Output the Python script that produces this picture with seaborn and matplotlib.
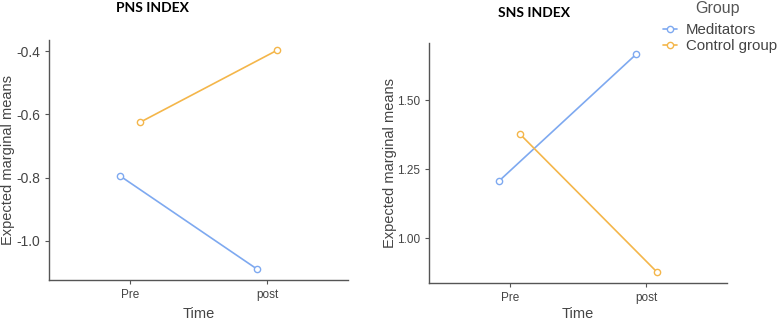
import pandas as pd
import matplotlib
matplotlib.use("Agg")
import matplotlib.pyplot as plt
import seaborn as sns

# --- dados ---
times = ["Pre", "post"]
groups = ["Meditators", "Control group"]
pns_meditators = [-0.794, -1.089]
pns_control = [-0.625, -0.397]
sns_meditators = [1.208, 1.666]
sns_control = [1.377, 0.878]

cores = ["#7EA9F0", "#F4B64A"]
cinza = "#555555"


def long_df(med, ctrl):
    rows = []
    for t, v in zip(times, med):
        rows.append({"Time": t, "Group": groups[0], "value": v})
    for t, v in zip(times, ctrl):
        rows.append({"Time": t, "Group": groups[1], "value": v})
    return pd.DataFrame(rows)


sns.set_style("white")
plt.rcParams["font.family"] = ["Liberation Sans", "DejaVu Sans"]
plt.rcParams["axes.unicode_minus"] = False

fig = plt.figure(figsize=(7.77, 3.22), dpi=100)
ax1 = fig.add_axes([49 / 777, 42 / 322, 299 / 777, 240 / 322])
ax2 = fig.add_axes([429 / 777, 39 / 322, 298 / 777, 240 / 322])


def desenha(ax, df, ylim, yticks, fmt, ysize, ypad, xpad):
    sns.pointplot(data=df, x="Time", y="value", hue="Group", order=times,
                  hue_order=groups, palette=cores, dodge=0.15, errorbar=None,
                  markers="o", linestyles="-", markersize=4.5, linewidth=1.2,
                  ax=ax)
    for ln in ax.lines:
        ln.set_markerfacecolor("white")
        ln.set_markeredgewidth(1.0)
    if ax.get_legend() is not None:
        ax.get_legend().remove()
    ax.set_xlim(-0.59, 1.59)
    ax.set_ylim(*ylim)
    ax.set_yticks(yticks)
    ax.set_yticklabels([fmt.format(v) for v in yticks])
    ax.set_xlabel("Time", fontsize=10.5, color="#444444", labelpad=xpad)
    ax.set_ylabel("Expected marginal means", fontsize=10.5, color="#444444", labelpad=ypad)
    sns.despine(ax=ax)
    for s in ["left", "bottom"]:
        ax.spines[s].set_color(cinza)
        ax.spines[s].set_linewidth(1.0)
    ax.tick_params(axis="both", colors=cinza, labelcolor="#444444", length=3,
                   width=0.8, labelsize=8.5, left=True, bottom=True)
    ax.tick_params(axis="y", labelsize=ysize)


desenha(ax1, long_df(pns_meditators, pns_control), (-1.124, -0.365),
        [-1.0, -0.8, -0.6, -0.4], "{:.1f}", 10, 1, 4)
desenha(ax2, long_df(sns_meditators, sns_control), (0.837, 1.707),
        [1.00, 1.25, 1.50], "{:.2f}", 8.5, 0, 2.5)

fig.text(152 / 777, 1 - 8 / 322, "PNS INDEX", ha="center", va="center",
         fontsize=10, fontweight="bold", family="Lato", color="black")
fig.text(534 / 777, 1 - 13 / 322, "SNS INDEX", ha="center", va="center",
         fontsize=10, fontweight="bold", family="Lato", color="black")

# legenda
fig.text(717 / 777, 1 - 8 / 322, "Group", ha="center", va="center",
         fontsize=11.5, color="#555555")
leg = fig.legend(handles=ax2.lines[:2], labels=groups,
                 loc="upper left", bbox_to_anchor=(663 / 777, 1 - 23 / 322),
                 frameon=False, fontsize=10.8,
                 handlelength=0.9, handletextpad=0.6, labelspacing=0.12,
                 borderpad=0, borderaxespad=0)
for t in leg.get_texts():
    t.set_color("#444444")

fig.savefig("out.png", dpi=100)
